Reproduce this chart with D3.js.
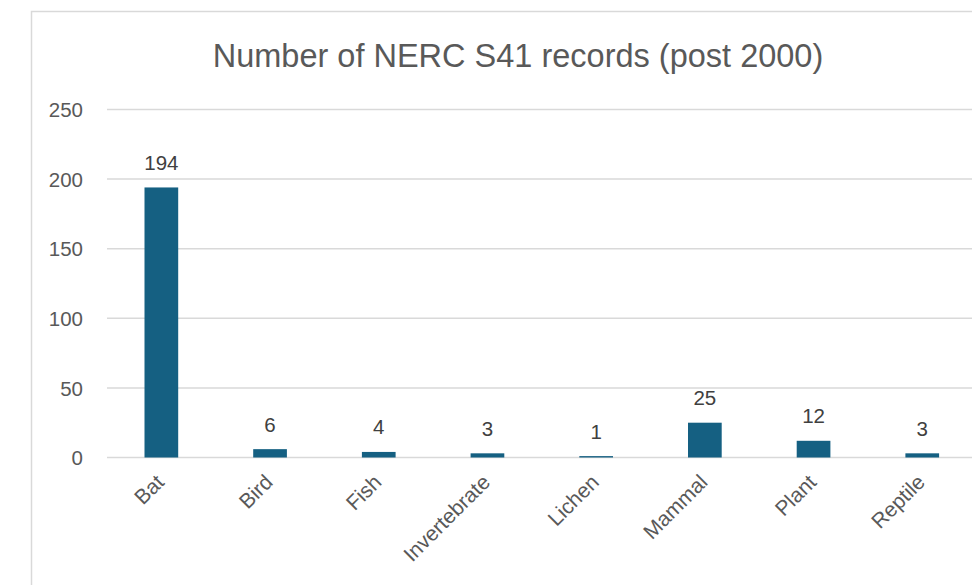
<!DOCTYPE html>
<html>
<head>
<meta charset="utf-8">
<script src="https://cdn.jsdelivr.net/npm/d3@7"></script>
<style>
  html, body { margin: 0; padding: 0; background: #fff; }
  svg { display: block; }
  text { font-family: "Liberation Sans", Arial, sans-serif; }
</style>
</head>
<body>
<svg id="chart" width="972" height="585"></svg>
<script>
const categories = ["Bat", "Bird", "Fish", "Invertebrate", "Lichen", "Mammal", "Plant", "Reptile"];
const values = [194, 6, 4, 3, 1, 25, 12, 3];
const yTicks = [0, 50, 100, 150, 200, 250];
const title = "Number of NERC S41 records (post 2000)";

const W = 972, H = 585;
const svg = d3.select("#chart");

// chart border (extends beyond visible area right and bottom)
svg.append("rect")
  .attr("x", 31.5).attr("y", 11.5)
  .attr("width", 1000).attr("height", 700)
  .attr("fill", "#fff")
  .attr("stroke", "#d9d9d9").attr("stroke-width", 1.5);

const x = d3.scaleBand().domain(categories).range([107, 976.6]).paddingInner(0.69).paddingOuter(0.345);
const y = d3.scaleLinear().domain([0, 250]).range([457.5, 109.5]);

// title
svg.append("text")
  .attr("x", 518).attr("y", 66.5)
  .attr("text-anchor", "middle")
  .attr("font-size", 32.5)
  .attr("fill", "#595959")
  .text(title);

// gridlines
svg.append("g").selectAll("line").data(yTicks).join("line")
  .attr("x1", 107).attr("x2", W)
  .attr("y1", d => y(d)).attr("y2", d => y(d))
  .attr("stroke", "#d9d9d9").attr("stroke-width", 1.5);

// y axis labels
const yAxis = d3.axisLeft(y).tickValues(yTicks).tickSize(0).tickPadding(0);
const gy = svg.append("g").attr("transform", "translate(83,0)").call(yAxis);
gy.select(".domain").remove();
gy.selectAll("text")
  .attr("font-family", "Liberation Sans, Arial, sans-serif")
  .attr("font-size", 20.5)
  .attr("fill", "#595959")
  .attr("dy", "0.35em");

// bars
svg.append("g").selectAll("rect").data(values).join("rect")
  .attr("x", (d, i) => x(categories[i]))
  .attr("width", x.bandwidth())
  .attr("y", d => y(d))
  .attr("height", d => y(0) - y(d))
  .attr("fill", "#156082");

// data labels
svg.append("g").selectAll("text").data(values).join("text")
  .attr("x", (d, i) => x(categories[i]) + x.bandwidth() / 2)
  .attr("y", d => y(d) - 17.5)
  .attr("text-anchor", "middle")
  .attr("font-size", 20.5)
  .attr("fill", "#404040")
  .text(d => d);

// category labels rotated
const xAxis = d3.axisBottom(x).tickSize(0).tickPadding(0);
const gx = svg.append("g").attr("transform", `translate(0,${y(0)})`).call(xAxis);
gx.select(".domain").remove();
gx.selectAll("text")
  .attr("font-family", "Liberation Sans, Arial, sans-serif")
  .attr("font-size", 21)
  .attr("fill", "#595959")
  .attr("text-anchor", "end")
  .attr("dy", null)
  .attr("y", 0)
  .attr("transform", "translate(4,26) rotate(-45)");
</script>
</body>
</html>
